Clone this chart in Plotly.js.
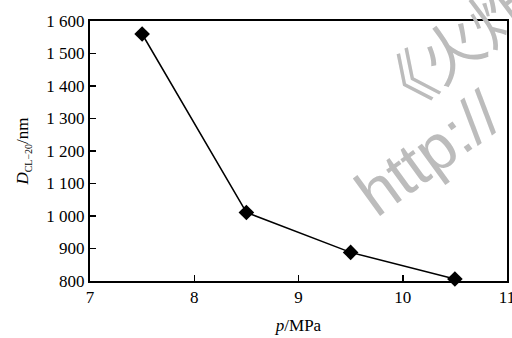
<!DOCTYPE html>
<html><head><meta charset="utf-8">
<script src="https://cdn.plot.ly/plotly-3.0.1.min.js"></script>
<style>html,body{margin:0;padding:0;background:#fff}#c{width:512px;height:338px}</style>
</head><body><div id="c"></div>
<script>
const pressure = [7.5, 8.5, 9.5, 10.5];
const diameter = [1560, 1011, 888, 806];
const xTicks = [7, 8, 9, 10, 11];
const xTickText = ['7', '8', '9', '10', '11'];
const yTicks = [800, 900, 1000, 1100, 1200, 1300, 1400, 1500, 1600];
const yTickText = ['800', '900', '1 000', '1 100', '1 200', '1 300', '1 400', '1 500', '1 600'];

const font = {family: 'Liberation Serif, Times New Roman, serif', size: 17, color: '#000'};
Plotly.newPlot('c', [{
  x: pressure, y: diameter, type: 'scatter', mode: 'lines+markers',
  line: {color: '#000', width: 1.5},
  marker: {symbol: 'diamond', size: 12, color: '#000'},
  cliponaxis: false
}], {
  width: 512, height: 338,
  margin: {l: 90, r: 5, t: 21, b: 57},
  paper_bgcolor: '#fff', plot_bgcolor: '#fff',
  font: font,
  showlegend: false,
  xaxis: {
    range: [7, 11], tickvals: xTicks, ticktext: xTickText,
    ticks: 'inside', ticklen: 6, tickwidth: 1.5, tickcolor: '#000',
    ticklabeloverflow: 'allow',
    showline: true, linecolor: '#000', linewidth: 2, mirror: true,
    showgrid: false, zeroline: false,
    title: {text: '<i>p</i>/MPa', font: font, standoff: 13}
  },
  yaxis: {
    range: [800, 1600], tickvals: yTicks, ticktext: yTickText,
    ticks: 'inside', ticklen: 6, tickwidth: 1.5, tickcolor: '#000',
    showline: true, linecolor: '#000', linewidth: 2, mirror: true,
    showgrid: false, zeroline: false,
    title: {text: '<i>D</i><sub><span style="font-size:10px">CL−20</span></sub>/nm', font: font, standoff: 13}
  },
  annotations: [
    {text: '《火炸', xref: 'paper', yref: 'paper', x: 0.86, y: 0.9, showarrow: false,
     textangle: -37, font: {family: 'Noto Sans CJK SC', size: 62, color: '#bcbcbc'}, xanchor: 'center', yanchor: 'middle'},
    {text: 'http://', xref: 'paper', yref: 'paper', x: 0.81, y: 0.49, showarrow: false,
     textangle: -36, font: {family: 'Liberation Sans, Arial, sans-serif', size: 64, color: '#bcbcbc'}, xanchor: 'center', yanchor: 'middle'}
  ]
}, {displayModeBar: false, staticPlot: true});
</script></body></html>
